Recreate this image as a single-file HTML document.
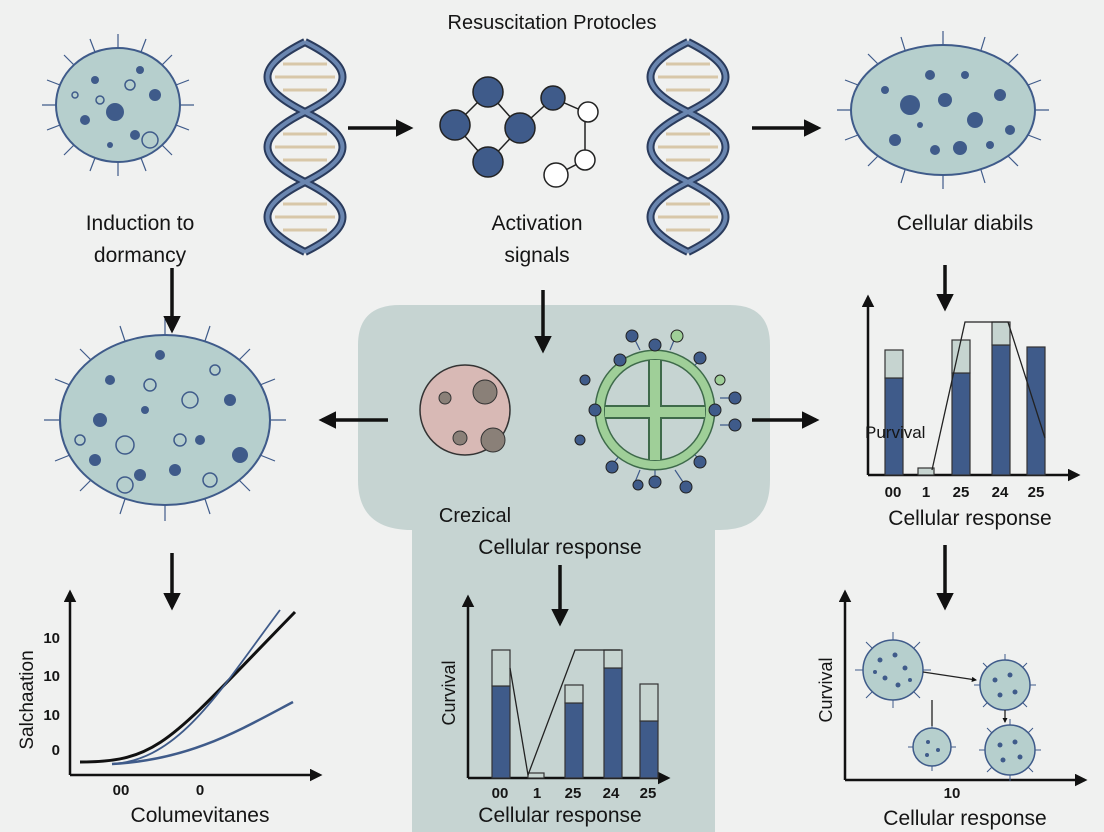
<!DOCTYPE html>
<html><head><meta charset="utf-8"><style>
html,body{margin:0;padding:0;background:#f0f1f0;}
svg{display:block}
text{font-family:"Liberation Sans",sans-serif;fill:#151515}
</style></head><body>
<svg width="1104" height="832" viewBox="0 0 1104 832" xmlns="http://www.w3.org/2000/svg">
<defs>
<marker id="ah" viewBox="0 0 10 10" refX="8" refY="5" markerWidth="5" markerHeight="5" orient="auto"><path d="M0,0L10,5L0,10z" fill="#111"/></marker>
<marker id="ah2" viewBox="0 0 10 10" refX="8" refY="5" markerWidth="4" markerHeight="4" orient="auto"><path d="M0,0L10,5L0,10z" fill="#111"/></marker>
<g id="dna" fill="none">
<g stroke="#d8c7a8" stroke-width="3">
<path d="M-22,22h44 M-30,35h60 M-22,48h44 M-22,92h44 M-30,105h60 M-22,118h44 M-22,162h44 M-30,175h60 M-22,188h44"/>
</g>
<path d="M0,0 C50,25 50,45 0,70 C-50,95 -50,115 0,140 C50,165 50,185 0,210" stroke="#2a3b5c" stroke-width="8"/>
<path d="M0,0 C-50,25 -50,45 0,70 C50,95 50,115 0,140 C-50,165 -50,185 0,210" stroke="#2a3b5c" stroke-width="8"/>
<path d="M0,0 C50,25 50,45 0,70 C-50,95 -50,115 0,140 C50,165 50,185 0,210" stroke="#6a86b0" stroke-width="4"/>
<path d="M0,0 C-50,25 -50,45 0,70 C50,95 50,115 0,140 C-50,165 -50,185 0,210" stroke="#6a86b0" stroke-width="4"/>
</g>
</defs>
<rect width="1104" height="832" fill="#f0f1f0"/>
<path d="M400,305 H730 Q770,305 770,345 V480 Q770,530 720,530 H715 V832 H412 V530 Q358,530 358,480 V345 Q358,305 400,305Z" fill="#c6d4d2"/>
<text x="552" y="29" font-size="20" text-anchor="middle">Resuscitation Protocles</text>

<ellipse cx="118" cy="105" rx="62" ry="57" fill="#b6cfcd" stroke="#3f5b8a" stroke-width="2"/>
<g fill="#3f5b8a"><circle cx="115" cy="112" r="9"/><circle cx="155" cy="95" r="6"/><circle cx="95" cy="80" r="4"/><circle cx="135" cy="135" r="5"/><circle cx="85" cy="120" r="5"/><circle cx="140" cy="70" r="4"/><circle cx="110" cy="145" r="3"/></g>
<g fill="none" stroke="#3f5b8a" stroke-width="1.5"><circle cx="150" cy="140" r="8"/><circle cx="100" cy="100" r="4"/><circle cx="130" cy="85" r="5"/><circle cx="75" cy="95" r="3"/></g>
<ellipse cx="943" cy="110" rx="92" ry="65" fill="#b6cfcd" stroke="#3f5b8a" stroke-width="2"/>
<g fill="#3f5b8a"><circle cx="910" cy="105" r="10"/><circle cx="945" cy="100" r="7"/><circle cx="975" cy="120" r="8"/><circle cx="960" cy="148" r="7"/><circle cx="895" cy="140" r="6"/><circle cx="935" cy="150" r="5"/><circle cx="1000" cy="95" r="6"/><circle cx="1010" cy="130" r="5"/><circle cx="885" cy="90" r="4"/><circle cx="930" cy="75" r="5"/><circle cx="965" cy="75" r="4"/><circle cx="990" cy="145" r="4"/><circle cx="920" cy="125" r="3"/></g>
<ellipse cx="165" cy="420" rx="105" ry="85" fill="#b6cfcd" stroke="#3f5b8a" stroke-width="2"/>
<g fill="#3f5b8a"><circle cx="100" cy="420" r="7"/><circle cx="240" cy="455" r="8"/><circle cx="140" cy="475" r="6"/><circle cx="230" cy="400" r="6"/><circle cx="110" cy="380" r="5"/><circle cx="200" cy="440" r="5"/><circle cx="160" cy="355" r="5"/><circle cx="175" cy="470" r="6"/><circle cx="95" cy="460" r="6"/><circle cx="145" cy="410" r="4"/></g>
<g fill="none" stroke="#3f5b8a" stroke-width="1.5"><circle cx="125" cy="445" r="9"/><circle cx="190" cy="400" r="8"/><circle cx="125" cy="485" r="8"/><circle cx="210" cy="480" r="7"/><circle cx="150" cy="385" r="6"/><circle cx="80" cy="440" r="5"/><circle cx="215" cy="370" r="5"/><circle cx="180" cy="440" r="6"/></g>
<g stroke="#3f5b8a" stroke-width="1.2">
<path d="M118,48v-14 M118,162v14 M56,105h-14 M180,105h14 M74,65l-10,-10 M162,65l10,-10 M74,145l-10,10 M162,145l10,10 M95,52l-5,-13 M141,52l5,-13 M95,158l-5,13 M141,158l5,13 M60,85l-13,-5 M176,85l13,-5 M60,125l-13,5 M176,125l13,5"/>
<path d="M943,45v-14 M943,175v14 M851,110h-14 M1035,110h14 M878,64l-10,-10 M1008,64l10,-10 M878,156l-10,10 M1008,156l10,10 M905,50l-4,-13 M981,50l4,-13 M905,170l-4,13 M981,170l4,13 M858,85l-13,-5 M1028,85l13,-5 M858,135l-13,5 M1028,135l13,5"/>
<path d="M165,335v-16 M165,505v16 M60,420h-16 M270,420h16 M91,360l-11,-11 M239,360l11,-11 M91,480l-11,11 M239,480l11,11 M125,341l-5,-15 M205,341l5,-15 M125,499l-5,15 M205,499l5,15 M70,385l-15,-6 M260,385l15,-6 M70,455l-15,6 M260,455l15,6"/>
</g>
<use href="#dna" x="305" y="42"/>
<use href="#dna" x="688" y="42"/>
<g stroke="#222" stroke-width="1.5" fill="none"><path d="M455,125L488,92L520,128L488,162Z M520,128L553,98L585,112L585,160L556,175 M585,112V160"/></g>
<g stroke="#222" stroke-width="1.5"><circle cx="455" cy="125" r="15" fill="#3f5b8a"/><circle cx="488" cy="92" r="15" fill="#3f5b8a"/><circle cx="520" cy="128" r="15" fill="#3f5b8a"/><circle cx="488" cy="162" r="15" fill="#3f5b8a"/><circle cx="553" cy="98" r="12" fill="#3f5b8a"/><circle cx="588" cy="112" r="10" fill="#fff"/><circle cx="585" cy="160" r="10" fill="#fff"/><circle cx="556" cy="175" r="12" fill="#fff"/></g>
<g stroke="#111" stroke-width="3.5" marker-end="url(#ah)">
<path d="M348,128H410"/><path d="M752,128H818"/>
<path d="M172,268V330"/><path d="M543,290V350"/><path d="M945,265V308"/>
<path d="M388,420H322"/><path d="M752,420H816"/>
<path d="M172,553V607"/><path d="M560,565V623"/><path d="M945,545V607"/>
</g>
<text x="140" y="230" font-size="21" text-anchor="middle">Induction to</text>
<text x="140" y="262" font-size="21" text-anchor="middle">dormancy</text>
<text x="537" y="230" font-size="21" text-anchor="middle">Activation</text>
<text x="537" y="262" font-size="21" text-anchor="middle">signals</text>
<text x="965" y="230" font-size="21" text-anchor="middle">Cellular diabils</text>
<circle cx="465" cy="410" r="45" fill="#d8b9b5" stroke="#333" stroke-width="1.5"/>
<g fill="#8a8078" stroke="#333"><circle cx="485" cy="392" r="12"/><circle cx="493" cy="440" r="12"/><circle cx="445" cy="398" r="6"/><circle cx="460" cy="438" r="7"/></g>
<g stroke="#3f5b8a" stroke-width="1.2">
<path d="M655,345L655,355 M620,360L628,368 M600,410H610 M700,410H712 M690,370L700,360 M690,450L700,460 M620,455L612,465 M655,465V478 M640,350l-6,-12 M670,350l5,-12 M640,470l-5,12 M675,470l8,12 M720,398h12 M720,425h12"/>
</g>
<circle cx="655" cy="410" r="55" fill="none" stroke="#3e6a4a" stroke-width="11"/>
<circle cx="655" cy="410" r="55" fill="none" stroke="#9fcf98" stroke-width="8"/>
<path d="M655,360V460 M605,412H705" stroke="#3e6a4a" stroke-width="14" fill="none"/>
<path d="M655,360V460 M605,412H705" stroke="#9fcf98" stroke-width="10" fill="none"/>
<g fill="#3f5b8a" stroke="#222"><circle cx="655" cy="345" r="6"/><circle cx="620" cy="360" r="6"/><circle cx="595" cy="410" r="6"/><circle cx="715" cy="410" r="6"/><circle cx="700" cy="358" r="6"/><circle cx="700" cy="462" r="6"/><circle cx="612" cy="467" r="6"/><circle cx="655" cy="482" r="6"/><circle cx="632" cy="336" r="6"/><circle cx="677" cy="336" r="6" fill="#9fcf98"/><circle cx="638" cy="485" r="5"/><circle cx="686" cy="487" r="6"/><circle cx="735" cy="398" r="6"/><circle cx="735" cy="425" r="6"/><circle cx="585" cy="380" r="5"/><circle cx="580" cy="440" r="5"/><circle cx="720" cy="380" r="5" fill="#9fcf98"/></g>
<text x="475" y="522" font-size="20" text-anchor="middle">Crezical</text>
<text x="560" y="554" font-size="21" text-anchor="middle">Cellular response</text>
<g stroke="#111" stroke-width="2.5" fill="none"><path d="M868,475V297" marker-end="url(#ah)"/><path d="M868,475H1078" marker-end="url(#ah)"/></g>
<g stroke="#333" stroke-width="1.2">
<rect x="885" y="378" width="18" height="97" fill="#3f5b8a"/><rect x="885" y="350" width="18" height="28" fill="#c6d4d0"/>
<rect x="918" y="468" width="16" height="7" fill="#c6d4d0"/>
<rect x="952" y="373" width="18" height="102" fill="#3f5b8a"/><rect x="952" y="340" width="18" height="33" fill="#c6d4d0"/>
<rect x="992" y="345" width="18" height="130" fill="#3f5b8a"/><rect x="992" y="322" width="18" height="23" fill="#c6d4d0"/>
<rect x="1027" y="347" width="18" height="128" fill="#3f5b8a"/>
</g>
<path d="M932,470L965,322H1008L1045,438" stroke="#222" stroke-width="1.3" fill="none"/>
<text x="865" y="438" font-size="17">Purvival</text>
<g font-size="15" font-weight="bold" text-anchor="middle"><text x="893" y="497">00</text><text x="926" y="497">1</text><text x="961" y="497">25</text><text x="1000" y="497">24</text><text x="1036" y="497">25</text></g>
<text x="970" y="525" font-size="21" text-anchor="middle">Cellular response</text>
<g stroke="#111" stroke-width="2.5" fill="none"><path d="M70,775V592" marker-end="url(#ah)"/><path d="M70,775H320" marker-end="url(#ah)"/></g>
<path d="M80,762C160,762 170,740 295,612" stroke="#111" stroke-width="3" fill="none"/>
<path d="M112,764C180,760 220,690 280,610" stroke="#3f5b8a" stroke-width="1.8" fill="none"/>
<path d="M112,764C190,760 240,730 293,702" stroke="#3f5b8a" stroke-width="2.5" fill="none"/>
<g font-size="15" font-weight="bold" text-anchor="end"><text x="60" y="643">10</text><text x="60" y="681">10</text><text x="60" y="720">10</text><text x="60" y="755">0</text></g>
<text transform="translate(33,700) rotate(-90)" font-size="19" text-anchor="middle">Salchaation</text>
<g font-size="15" font-weight="bold" text-anchor="middle"><text x="121" y="795">00</text><text x="200" y="795">0</text></g>
<text x="200" y="822" font-size="21" text-anchor="middle">Columevitanes</text>
<g stroke="#111" stroke-width="2.5" fill="none"><path d="M468,778V597" marker-end="url(#ah)"/><path d="M468,778H668" marker-end="url(#ah)"/></g>
<g stroke="#333" stroke-width="1.2">
<rect x="492" y="686" width="18" height="92" fill="#3f5b8a"/><rect x="492" y="650" width="18" height="36" fill="#c6d4d0"/>
<rect x="528" y="773" width="16" height="5" fill="#c6d4d0"/>
<rect x="565" y="703" width="18" height="75" fill="#3f5b8a"/><rect x="565" y="685" width="18" height="18" fill="#c6d4d0"/>
<rect x="604" y="668" width="18" height="110" fill="#3f5b8a"/><rect x="604" y="650" width="18" height="18" fill="#c6d4d0"/>
<rect x="640" y="721" width="18" height="57" fill="#3f5b8a"/><rect x="640" y="684" width="18" height="37" fill="#c6d4d0"/>
</g>
<path d="M510,668L528,775L575,650H620" stroke="#222" stroke-width="1.3" fill="none"/>
<text transform="translate(455,693) rotate(-90)" font-size="18" text-anchor="middle">Curvival</text>
<g font-size="15" font-weight="bold" text-anchor="middle"><text x="500" y="798">00</text><text x="537" y="798">1</text><text x="573" y="798">25</text><text x="611" y="798">24</text><text x="648" y="798">25</text></g>
<text x="560" y="822" font-size="21" text-anchor="middle">Cellular response</text>
<g stroke="#111" stroke-width="2.5" fill="none"><path d="M845,780V592" marker-end="url(#ah)"/><path d="M845,780H1085" marker-end="url(#ah)"/></g>
<text transform="translate(832,690) rotate(-90)" font-size="18" text-anchor="middle">Curvival</text>
<g stroke="#3f5b8a" stroke-width="1">
<path d="M893,640v-8 M893,700v8 M863,670h-8 M923,670h8 M872,648l-6,-6 M914,648l6,-6 M872,692l-6,6 M914,692l6,6"/>
<path d="M1005,660v-6 M1005,710v6 M980,685h-6 M1030,685h6 M988,668l-5,-5 M1022,668l5,-5 M988,702l-5,5 M1022,702l5,5"/>
<path d="M1010,725v-6 M1010,775v6 M985,750h-6 M1035,750h6 M992,733l-5,-5 M1028,733l5,-5 M992,767l-5,5 M1028,767l5,5"/>
<path d="M932,728v-5 M932,766v5 M913,747h-5 M951,747h5"/>
</g>
<circle cx="893" cy="670" r="30" fill="#b6cfcd" stroke="#3f5b8a" stroke-width="1.5"/>
<circle cx="1005" cy="685" r="25" fill="#b6cfcd" stroke="#3f5b8a" stroke-width="1.5"/>
<circle cx="1010" cy="750" r="25" fill="#b6cfcd" stroke="#3f5b8a" stroke-width="1.5"/>
<circle cx="932" cy="747" r="19" fill="#b6cfcd" stroke="#3f5b8a" stroke-width="1.5"/>
<g fill="#3f5b8a"><circle cx="880" cy="660" r="2.5"/><circle cx="895" cy="655" r="2.5"/><circle cx="905" cy="668" r="2.5"/><circle cx="885" cy="678" r="2.5"/><circle cx="898" cy="685" r="2.5"/><circle cx="910" cy="680" r="2"/><circle cx="875" cy="672" r="2"/><circle cx="995" cy="680" r="2.5"/><circle cx="1010" cy="675" r="2.5"/><circle cx="1015" cy="692" r="2.5"/><circle cx="1000" cy="695" r="2.5"/><circle cx="1000" cy="745" r="2.5"/><circle cx="1015" cy="742" r="2.5"/><circle cx="1020" cy="757" r="2.5"/><circle cx="1003" cy="760" r="2.5"/><circle cx="928" cy="742" r="2"/><circle cx="938" cy="750" r="2"/><circle cx="927" cy="755" r="2"/></g>
<g stroke="#222" stroke-width="1.3" fill="none"><path d="M923,672L976,680" marker-end="url(#ah2)"/><path d="M1005,710V722" marker-end="url(#ah2)"/><path d="M932,700V726"/></g>
<text x="952" y="798" font-size="15" font-weight="bold" text-anchor="middle">10</text>
<text x="965" y="825" font-size="21" text-anchor="middle">Cellular response</text>
</svg>
</body></html>
